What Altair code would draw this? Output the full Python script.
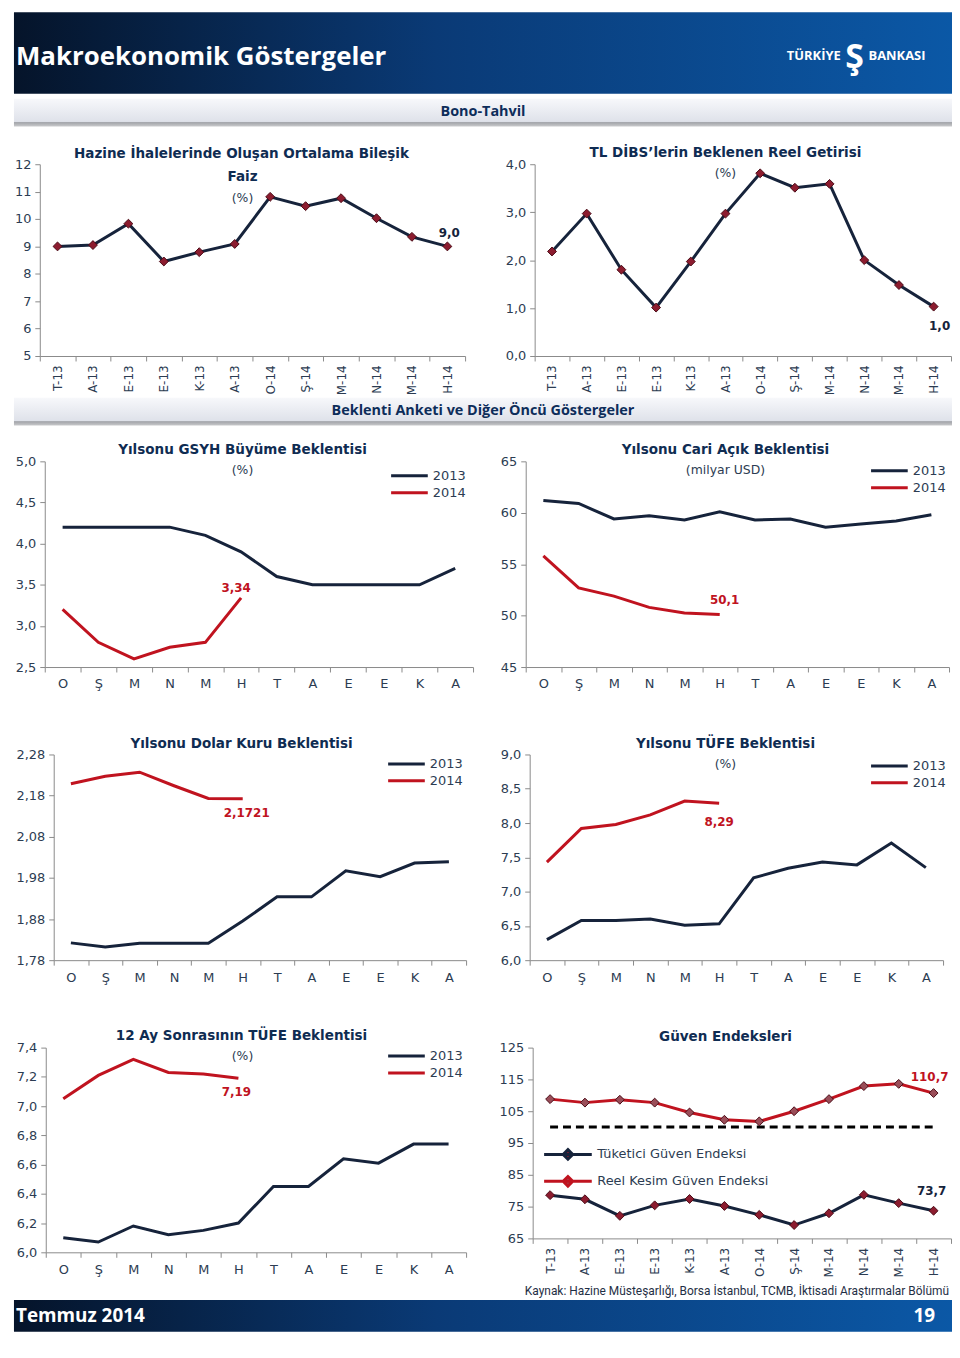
import altair as alt
import pandas as pd

# ---------------- data ----------------
ay_etiket = ["T-13", "A-13", "E-13", "E-13", "K-13", "A-13", "O-14", "Ş-14", "M-14", "N-14", "M-14", "H-14"]
ay_harf = ["O", "Ş", "M", "N", "M", "H", "T", "A", "E", "E", "K", "A"]

faiz = [9.00, 9.05, 9.83, 8.45, 8.79, 9.09, 10.81, 10.47, 10.76, 10.03, 9.35, 9.00]
reel_getiri = [2.18, 2.97, 1.80, 1.01, 1.97, 2.97, 3.81, 3.51, 3.59, 2.00, 1.48, 1.03]
gsyh_2013 = [4.2, 4.2, 4.2, 4.2, 4.1, 3.9, 3.6, 3.5, 3.5, 3.5, 3.5, 3.7]
gsyh_2014 = [3.2, 2.8, 2.6, 2.74, 2.8, 3.34]
cari_2013 = [61.2, 60.9, 59.4, 59.7, 59.3, 60.1, 59.3, 59.4, 58.6, 58.9, 59.2, 59.8]
cari_2014 = [55.8, 52.7, 51.9, 50.8, 50.25, 50.1]
dolar_2013 = [1.822, 1.812, 1.821, 1.821, 1.821, 1.875, 1.934, 1.934, 1.997, 1.983, 2.016, 2.019]
dolar_2014 = [2.209, 2.227, 2.237, 2.204, 2.173, 2.1721]
tufe_2013 = [6.30, 6.58, 6.58, 6.60, 6.51, 6.53, 7.20, 7.34, 7.43, 7.39, 7.71, 7.35]
tufe_2014 = [7.43, 7.92, 7.98, 8.12, 8.32, 8.29]
tufe12_2013 = [6.10, 6.07, 6.18, 6.12, 6.15, 6.20, 6.45, 6.45, 6.64, 6.61, 6.74, 6.74]
tufe12_2014 = [7.05, 7.21, 7.32, 7.23, 7.22, 7.19]
tuketici = [78.6, 77.3, 72.1, 75.4, 77.4, 75.2, 72.4, 69.2, 72.9, 78.7, 76.1, 73.7]
reel_kesim = [108.8, 107.7, 108.6, 107.7, 104.6, 102.3, 101.8, 105.0, 108.8, 112.9, 113.6, 110.7]
esik = [100, 100]

# ---------------- style ----------------
FONT = "DejaVu Sans"
HFONT = "Open Sans"
NAVY = "#16233b"
RED = "#c0131f"
MARK = "#8c1c2f"
MARK_EDGE = "#4a0b16"
TITLE = "#0f2c52"
TXT = "#2c3c52"
AX = "#8a8a8a"
W = 944

DARK_GRAD = alt.LinearGradient(
    gradient="linear", x1=0, y1=0, x2=1, y2=0,
    stops=[alt.GradientStop(offset=0, color="#05142a"),
           alt.GradientStop(offset=0.45, color="#0a3a76"),
           alt.GradientStop(offset=1, color="#0b58a6")])
LIGHT_GRAD = alt.LinearGradient(
    gradient="linear", x1=0, y1=0, x2=0, y2=1,
    stops=[alt.GradientStop(offset=0, color="#f7f8fb"),
           alt.GradientStop(offset=0.82, color="#dfe2ea"),
           alt.GradientStop(offset=0.86, color="#a3a5aa"),
           alt.GradientStop(offset=1, color="#c9cacc")])


def one_row():
    return pd.DataFrame({"z": [0]})


def spacer(h):
    return alt.Chart(one_row()).mark_point(opacity=0, size=1).encode(
        x=alt.value(W / 2), y=alt.value(h / 2)).properties(width=W, height=h)


def band(w, h, grad):
    return alt.Chart(one_row()).mark_rect(color=grad).encode(
        x=alt.value(0), x2=alt.value(w), y=alt.value(0), y2=alt.value(h))


def text_at(text, x, y, size=13, weight="normal", color=TXT, font=FONT, align="center"):
    return alt.Chart(pd.DataFrame({"t": [text]})).mark_text(
        font=font, fontSize=size, fontWeight=weight, color=color,
        align=align, baseline="middle").encode(
        text="t:N", x=alt.value(x), y=alt.value(y))


def x_enc(labels, rotated, x0, x1, off=0):
    expr = "[" + ",".join("'" + l + "'" for l in labels) + "][datum.value - 1]"
    common = dict(labelExpr=expr, tickBand="extent", domainColor=AX, tickColor=AX,
                  tickSize=5, labelFont=FONT, labelColor=TXT, grid=False, title=None,
                  orient="bottom", offset=off, minExtent=0)
    if rotated:
        ax = alt.Axis(labelAngle=270, labelAlign="right", labelBaseline="middle",
                      labelFontSize=12, labelPadding=4, **common)
    else:
        ax = alt.Axis(labelAngle=0, labelAlign="center", labelFontSize=13,
                      labelPadding=6, **common)
    return alt.X("k:O", scale=alt.Scale(type="band", paddingInner=0, paddingOuter=0,
                                        range=[x0, x1]), axis=ax)


def y_enc(dom, vals, fmt, x0, h):
    ax = alt.Axis(values=vals, labelExpr="replace(format(datum.value, '" + fmt + "'), '.', ',')",
                  domainColor=AX, tickColor=AX, tickSize=5, labelPadding=4,
                  labelFont=FONT, labelFontSize=13, labelColor=TXT, grid=False, title=None,
                  orient="left", offset=-x0, minExtent=0, maxExtent=60)
    return alt.Y("v:Q", scale=alt.Scale(domain=dom, nice=False, zero=False, range=[h, 0]), axis=ax)


def value_label(df, flt, fmt, color, dx, dy, xe, ye):
    return alt.Chart(df).transform_filter(flt).transform_calculate(
        lbl="replace(format(datum.v, '" + fmt + "'), '.', ',')").mark_text(
        font=FONT, fontSize=12, fontWeight="bold", color=color, dx=dx, dy=dy).encode(
        x=xe, y=ye, text="lbl:N")


def ttl(text, x, y):
    return text_at(text, x, y, size=13.6, weight="bold", color=TITLE)


def sub(text, x, y):
    return text_at(text, x, y, size=12.5, color=TXT)


def seri_panel(vals, dom, yvals, yfmt, x0, x1, h, titles, fmt, color, dx, dy):
    df = pd.DataFrame({"k": list(range(1, 13)), "v": vals})
    xe = x_enc(ay_etiket, True, x0, x1)
    ye = y_enc(dom, yvals, yfmt, x0, h)
    line = alt.Chart(df).mark_line(color=NAVY, strokeWidth=3).encode(x=xe, y=ye)
    pts = alt.Chart(df).mark_point(shape="diamond", filled=True, fill=MARK, stroke=MARK_EDGE,
                                   strokeWidth=1, size=80, opacity=1).encode(x=xe, y=ye)
    lab = value_label(df, "datum.k == 12", fmt, color, dx, dy, xe, ye)
    return alt.layer(line, pts, lab, *titles)


def yil_panel(v13, v14, dom, yvals, yfmt, x0, x1, h, titles, fmt, dx, dy, lx, ly):
    df = pd.DataFrame({"k": list(range(1, 13)) + list(range(1, len(v14) + 1)),
                       "v": v13 + v14,
                       "s": ["2013"] * 12 + ["2014"] * len(v14)})
    xe = x_enc(ay_harf, False, x0, x1)
    ye = y_enc(dom, yvals, yfmt, x0, h)
    line = alt.Chart(df).mark_line(strokeWidth=3).encode(
        x=xe, y=ye,
        color=alt.Color("s:N", scale=alt.Scale(domain=["2013", "2014"], range=[NAVY, RED]),
                        legend=alt.Legend(orient="none", legendX=x0 + lx + 13.5, legendY=ly, title=None,
                                          symbolType="M-4.1,0H4.1", symbolSize=81,
                                          symbolStrokeWidth=3, labelFont=FONT,
                                          labelFontSize=13, labelColor=TXT,
                                          labelOffset=17, rowPadding=3, padding=0)))
    lab = value_label(df, "datum.s == '2014' && datum.k == " + str(len(v14)),
                      fmt, RED, dx, dy, xe, ye)
    return alt.layer(line, lab, *titles)


def guven_panel(x0, x1, h, off, titles):
    names = ["Tüketici Güven Endeksi", "Reel Kesim Güven Endeksi"]
    df = pd.DataFrame({"k": list(range(1, 13)) * 2,
                       "v": tuketici + reel_kesim,
                       "s": [names[0]] * 12 + [names[1]] * 12})
    dash = pd.DataFrame({"k": [1, 12], "v": esik})
    xe = x_enc(ay_etiket, True, x0, x1, off)
    ye = y_enc([65, 125], [65, 75, 85, 95, 105, 115, 125], ".0f", x0, h)
    dline = alt.Chart(dash).mark_line(color="#000000", strokeWidth=3, strokeDash=[8, 5]).encode(x=xe, y=ye)
    line = alt.Chart(df).mark_line(strokeWidth=3).encode(
        x=xe, y=ye,
        color=alt.Color("s:N", scale=alt.Scale(domain=names, range=[NAVY, RED]),
                        legend=alt.Legend(orient="none", legendX=x0 + 29, legendY=101, title=None,
                                          symbolType="M-5,0H5M0,-1L1,0L0,1L-1,0Z",
                                          symbolSize=92, symbolStrokeWidth=3,
                                          symbolFillColor=MARK, labelLimit=400,
                                          labelFont=FONT, labelFontSize=13, labelColor=TXT,
                                          labelOffset=23, rowPadding=4, padding=0)))
    pts = alt.Chart(df).mark_point(shape="diamond", filled=True, stroke=MARK_EDGE, strokeWidth=1,
                                   size=80, opacity=1).encode(
        x=xe, y=ye,
        fill=alt.Fill("s:N", scale=alt.Scale(domain=names, range=[MARK, "#9a4d58"]), legend=None))
    lab1 = value_label(df, "datum.k == 12 && datum.v > 90", ".1f", RED, -4, -16, xe, ye)
    lab2 = value_label(df, "datum.k == 12 && datum.v < 90", ".1f", NAVY, -2, -20, xe, ye)
    return alt.layer(dline, line, pts, lab1, lab2, *titles)


def row(a, b, h):
    return alt.layer(a, b).resolve_scale(
        x="independent", y="independent", color="independent", fill="independent").resolve_axis(
        x="independent", y="independent").resolve_legend(color="independent").properties(width=W, height=h)


# ---------------- panels ----------------
p1 = seri_panel(faiz, [5, 12], [5, 6, 7, 8, 9, 10, 11, 12], ".0f", 26, 454, 193,
                [ttl("Hazine İhalelerinde  Oluşan Ortalama Bileşik", 26 + 203, -10),
                 ttl("Faiz", 26 + 204, 13), sub("(%)", 26 + 204, 34)],
                ".1f", NAVY, 2, -13)
p2 = seri_panel(reel_getiri, [0, 4], [0, 1, 2, 3, 4], ".1f", 524, 943, 193,
                [ttl("TL DİBS’lerin Beklenen Reel Getirisi", 524 + 192, -11), sub("(%)", 524 + 192, 9)],
                ".1f", NAVY, 6, 20)
p3 = yil_panel(gsyh_2013, gsyh_2014, [2.5, 5.0], [2.5, 3.0, 3.5, 4.0, 4.5, 5.0], ".1f", 31, 462, 207,
               [ttl("Yılsonu  GSYH Büyüme Beklentisi", 31 + 199, -11), sub("(%)", 31 + 199, 9)],
               ".2f", -5, -10, 347, 8)
p4 = yil_panel(cari_2013, cari_2014, [45, 65], [45, 50, 55, 60, 65], ".0f", 515, 941, 207,
               [ttl("Yılsonu  Cari Açık Beklentisi", 515 + 201, -11), sub("(milyar USD)", 515 + 201, 9)],
               ".1f", 5, -15, 346, 3)
p5 = yil_panel(dolar_2013, dolar_2014, [1.78, 2.28], [1.78, 1.88, 1.98, 2.08, 2.18, 2.28], ".2f", 40, 455, 207,
               [ttl("Yılsonu  Dolar Kuru Beklentisi", 40 + 189, -11)],
               ".4f", 4, 14, 335, 3)
p6 = yil_panel(tufe_2013, tufe_2014, [6.0, 9.0], [6.0, 6.5, 7.0, 7.5, 8.0, 8.5, 9.0], ".1f", 519, 935, 207,
               [ttl("Yılsonu  TÜFE Beklentisi", 519 + 197, -11), sub("(%)", 519 + 197, 10)],
               ".2f", 0, 19, 342, 5)
p7 = yil_panel(tufe12_2013, tufe12_2014, [6.0, 7.4], [6.0, 6.2, 6.4, 6.6, 6.8, 7.0, 7.2, 7.4], ".1f", 32, 455, 206,
               [ttl("12 Ay Sonrasının  TÜFE Beklentisi", 32 + 197, -12), sub("(%)", 32 + 198, 8)],
               ".2f", -2, 14, 343, 2)
p8 = guven_panel(522, 943, 192, -14, [ttl("Güven Endeksleri", 522 + 194, -11)])

row1 = row(p1, p2, 193)
row2 = row(p3, p4, 207)
row3 = row(p5, p6, 207)
row4 = row(p7, p8, 206)

# ---------------- banners ----------------
header = alt.layer(
    band(W, 82, DARK_GRAD),
    text_at("Makroekonomik Göstergeler", 2, 45, size=26, weight="bold", color="#ffffff",
            font=HFONT, align="left"),
    text_at("TÜRKİYE", 832, 44, size=13, weight="bold", color="#ffffff", font=HFONT, align="right"),
    text_at("Ş", 846, 46, size=34, weight="bold", color="#ffffff", font=HFONT),
    text_at("BANKASI", 860, 44, size=13, weight="bold", color="#ffffff", font=HFONT, align="left"),
).properties(width=W, height=82)

sec1 = alt.layer(
    band(W, 28, LIGHT_GRAD),
    text_at("Bono-Tahvil", 472, 13, size=14.5, weight="bold", color="#0d2d5a", font=HFONT),
).properties(width=W, height=28)
sec2 = alt.layer(
    band(W, 28, LIGHT_GRAD),
    text_at("Beklenti Anketi ve Diğer Öncü Göstergeler", 472, 13, size=14.5, weight="bold",
            color="#0d2d5a", font=HFONT),
).properties(width=W, height=28)

source = text_at("Kaynak: Hazine Müsteşarlığı, Borsa İstanbul, TCMB, İktisadi Araştırmalar Bölümü",
                 941, 39, size=12, color="#1f2f45", font="Roboto", align="right").properties(
    width=W, height=48)

footer = alt.layer(
    band(W, 32, DARK_GRAD),
    text_at("Temmuz 2014", 2, 16, size=19, weight="bold", color="#ffffff", font=HFONT, align="left"),
    text_at("19", 927, 16, size=19, weight="bold", color="#ffffff", font=HFONT, align="right"),
).properties(width=W, height=32)

chart = alt.vconcat(
    header, spacer(5), sec1, spacer(38), row1, spacer(42), sec2, spacer(36),
    row2, spacer(88), row3, spacer(88), row4, source, footer,
    spacing=0, bounds="flush",
    padding={"left": 0, "top": 0, "right": 0, "bottom": 0},
).resolve_scale(color="independent", fill="independent").resolve_legend(
    color="independent").configure_view(strokeWidth=0)

chart.save("out.html", embed_options={"renderer": "svg", "actions": False})
